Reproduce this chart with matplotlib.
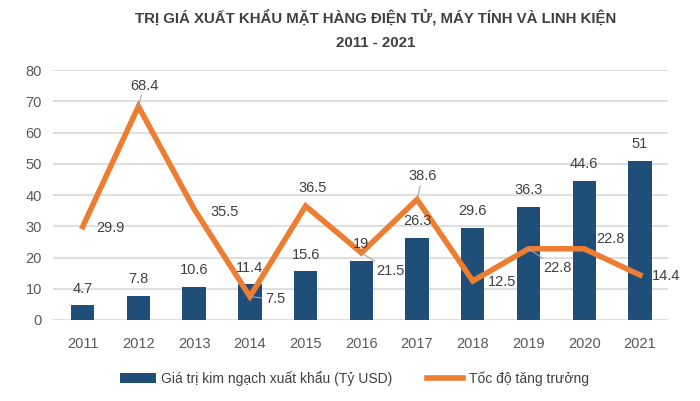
import matplotlib.pyplot as plt
import numpy as np

years = ["2011", "2012", "2013", "2014", "2015", "2016", "2017", "2018", "2019", "2020", "2021"]
kim_ngach = [4.7, 7.8, 10.6, 11.4, 15.6, 19, 26.3, 29.6, 36.3, 44.6, 51]
tang_truong = [29.9, 68.4, 35.5, 7.5, 36.5, 21.5, 38.6, 12.5, 22.8, 22.8, 14.4]

# label offsets (points) for the growth line labels, and which ones get a leader line
line_offsets = [(20, -1), (4, 15), (22, -2), (18, -2), (5, 13), (21, -13),
                (4, 17), (21, -1), (21, -14), (19, 7), (19, -1)]
leaders = {1, 3, 5, 6, 8}

plt.rcParams['font.family'] = ['Liberation Sans', 'DejaVu Sans']

fig = plt.figure(figsize=(7, 4.01), dpi=100)
ax = fig.add_axes([0.076, 0.202, 0.878, 0.623])

x = np.arange(len(years))
bars = ax.bar(x, kim_ngach, width=0.42, color="#1F4E79", zorder=2,
              label="Giá trị kim ngạch xuất khẩu (Tỷ USD)")
line, = ax.plot(x, tang_truong, color="#ED7D31", lw=4, zorder=3,
                solid_joinstyle="miter", label="Tốc độ tăng trưởng")

for i, v in enumerate(kim_ngach):
    ax.annotate(f"{v:g}", (i, v), xytext=(0, 12), textcoords="offset points",
                ha="center", va="center", fontsize=10.5, color="#404040", zorder=4)

for i, v in enumerate(tang_truong):
    dx, dy = line_offsets[i]
    arrow = None
    if i in leaders:
        arrow = dict(arrowstyle="-", color="#A6A6A6", lw=0.8, shrinkA=0, shrinkB=0)
    ax.annotate(f"{v:g}", (i, v), xytext=(dx, dy), textcoords="offset points",
                ha="center", va="center", fontsize=10.5, color="#404040", zorder=4,
                arrowprops=arrow)

ax.set_ylim(0, 80)
ax.set_yticks(range(0, 81, 10))
ax.set_xlim(-0.53, 10.5)
ax.set_xticks(x)
ax.set_xticklabels(years)
ax.tick_params(axis="both", length=0, labelsize=10.5, colors="#595959", pad=8)
ax.tick_params(axis="x", pad=12)
ax.yaxis.grid(True, color="#D9D9D9", lw=1.2, zorder=0)
for s in ax.spines.values():
    s.set_visible(False)

fig.text(0.537, 0.958, "TRỊ GIÁ XUẤT KHẨU MẶT HÀNG ĐIỆN TỬ, MÁY TÍNH VÀ LINH KIỆN",
         ha="center", va="center", fontsize=10.8, fontweight="bold", color="#404040")
fig.text(0.537, 0.893, "2011 - 2021", ha="center", va="center",
         fontsize=10.8, fontweight="bold", color="#404040")

fig.legend([bars, line], [bars.get_label(), line.get_label()],
           loc="center", bbox_to_anchor=(0.506, 0.057), ncol=2, frameon=False,
           fontsize=10, handlelength=2.6, handletextpad=0.4, columnspacing=2.5,
           labelcolor="#404040")

fig.savefig("out.png", dpi=100)
